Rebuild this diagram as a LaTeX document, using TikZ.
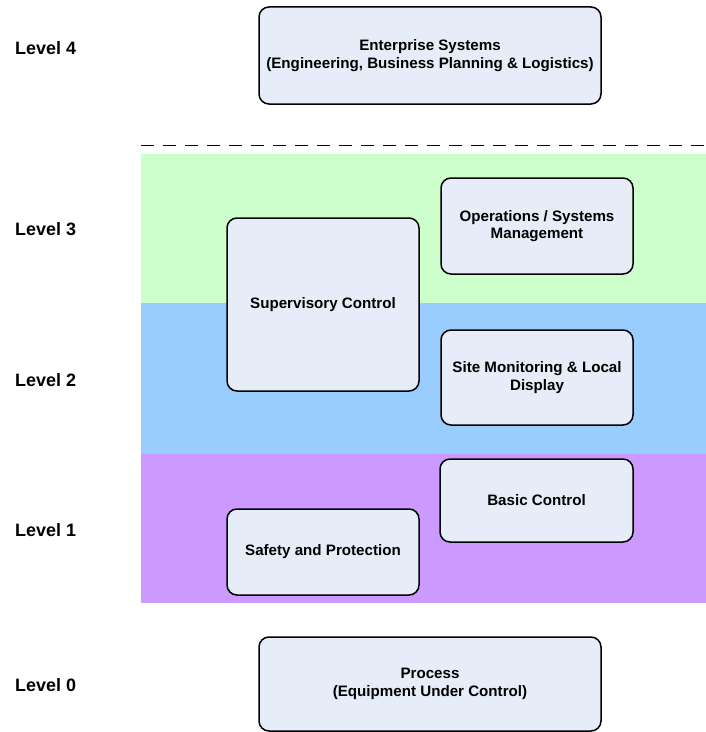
\documentclass[tikz,border=0pt]{standalone}
\usepackage{fontspec}
\setmainfont{Liberation Sans}
\definecolor{bandgreen}{HTML}{CCFFCC}
\definecolor{bandblue}{HTML}{99CCFF}
\definecolor{bandpurple}{HTML}{CC99FF}
\definecolor{boxfill}{HTML}{E7EDF8}
\tikzset{
  layerbox/.style={draw=black, line width=1.5bp, fill=boxfill, rounded corners=10bp,
    inner sep=0pt, outer sep=0pt, align=center,
    font=\bfseries\fontsize{15.2}{17.5}\selectfont},
  levellabel/.style={anchor=west, inner sep=0pt, font=\bfseries\fontsize{18}{20}\selectfont},
  band/.style={draw=none}
}
\begin{document}
\begin{tikzpicture}[x=1bp,y=-1bp]
\useasboundingbox (0,0) rectangle (706,732);
% bands
\fill[bandgreen] (141,154) rectangle (706,303);
\fill[bandblue] (141,303) rectangle (706,454);
\fill[bandpurple] (141,454) rectangle (706,603);
% dashed separator
\coordinate (dashL) at (141,145.5);
\coordinate (dashR) at (706,145.5);
\draw[line width=1.6bp, dash pattern=on 13bp off 9bp] (dashL) -- (dashR);
% level labels
\node[levellabel] (l4) at (15,48) {Level 4};
\node[levellabel] (l3) at (15,229) {Level 3};
\node[levellabel] (l2) at (15,380) {Level 2};
\node[levellabel] (l1) at (15,530) {Level 1};
\node[levellabel] (l0) at (15,685) {Level 0};
% boxes
\node[layerbox, minimum width=342bp, minimum height=97bp] (ent) at (430,55.5)
  {Enterprise Systems\\(Engineering, Business Planning \& Logistics)};
\node[layerbox, minimum width=192bp, minimum height=96bp] (ops) at (537,226)
  {Operations / Systems\\Management};
\node[layerbox, minimum width=192bp, minimum height=173bp] (sup) at (323,304.5)
  {Supervisory Control};
\node[layerbox, minimum width=192bp, minimum height=95bp] (site) at (537,377.5)
  {Site Monitoring \& Local\\Display};
\node[layerbox, minimum width=193bp, minimum height=83bp] (basic) at (536.5,500.5)
  {Basic Control};
\node[layerbox, minimum width=192bp, minimum height=86bp] (safety) at (323,552)
  {Safety and Protection};
\node[layerbox, minimum width=342bp, minimum height=94bp] (proc) at (430,684)
  {Process\\(Equipment Under Control)};
\end{tikzpicture}
\end{document}
